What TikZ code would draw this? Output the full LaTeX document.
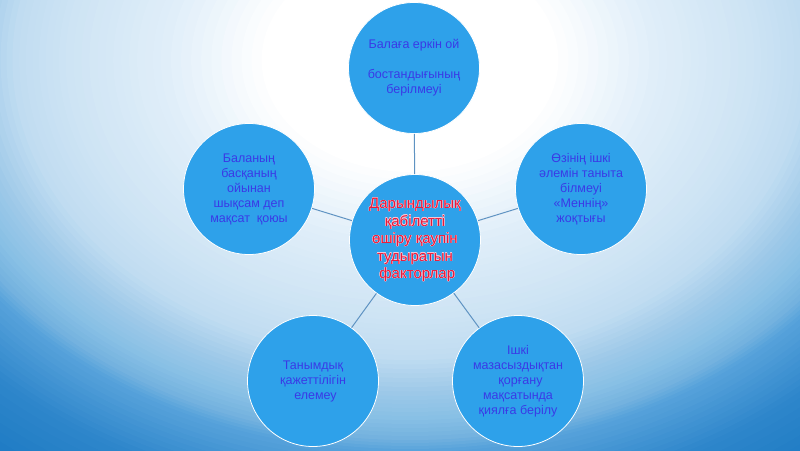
\documentclass[tikz,border=0pt]{standalone}
\usepackage{fontspec}
\setmainfont{Liberation Sans}
\definecolor{s1}{HTML}{E0EEF9}
\definecolor{s2}{HTML}{CEE4F4}
\definecolor{s3}{HTML}{C0DCF1}
\definecolor{s4}{HTML}{9CC8E8}
\definecolor{s5}{HTML}{88C0E5}
\definecolor{s6}{HTML}{74B2DF}
\definecolor{s7}{HTML}{58A3DB}
\definecolor{s8}{HTML}{2E86CB}
\definecolor{s9}{HTML}{1A78C2}
\definecolor{circblue}{HTML}{2EA1EA}
\definecolor{txtblue}{HTML}{3A3AE6}
\definecolor{txtred}{HTML}{E8183A}
\definecolor{halocol}{HTML}{F6C8D6}
\definecolor{connblue}{HTML}{5F93C2}
% one ring band of the background: t0 t1 inner-colour outer-colour steps
\newcommand\bgseg[5]{%
  \foreach \k in {0,...,#5}{%
    \pgfmathsetmacro\s{#2-(#2-#1)*\k/#5}%
    \pgfmathtruncatemacro\p{100*\k/#5}%
    \fill[#3!\p!#4] (410,60) ellipse ({530*\s} and {400*\s});
  }}
\newcommand\hubtxt{Дарындылық\\қабілетті\\өшіру қаупін\\тудыратын\\\hspace{0.3em}факторлар}
\begin{document}
\begin{tikzpicture}[x=1pt,y=-1pt,
  circ/.style={circle, fill=circblue, draw=white, line width=0.8pt, minimum size=131pt, inner sep=0pt, align=center, font=\fontsize{12.5}{15}\selectfont, text=txtblue},
  hubtext/.style={align=center, inner sep=0pt, font=\fontsize{15}{17.5}\selectfont},
  conn/.style={draw=connblue, line width=1pt}]
\useasboundingbox (0,0) rectangle (800,450);
\begin{scope}
  \clip (0,0) rectangle (800,450);
  \fill[s9] (0,0) rectangle (800,450);
  \bgseg{1.12}{1.30}{s8}{s9}{10}
  \bgseg{0.98}{1.12}{s7}{s8}{12}
  \bgseg{0.95}{0.98}{s6}{s7}{4}
  \bgseg{0.90}{0.95}{s5}{s6}{5}
  \bgseg{0.84}{0.90}{s4}{s5}{6}
  \bgseg{0.75}{0.84}{s3}{s4}{8}
  \bgseg{0.65}{0.75}{s2}{s3}{8}
  \bgseg{0.47}{0.65}{s1}{s2}{12}
  \bgseg{0.28}{0.47}{white}{s1}{10}
\end{scope}
\node[circ] (c)  at (415,240) {};
\foreach \a in {0,45,...,315}
  \node[hubtext, text=halocol] (halo\a) at ([shift={(\a:0.35)}]c.center) {\hubtxt};
\node[hubtext, text=txtred] (ctext) at (c.center) {\hubtxt};
\node[circ] (t)  at (414,68)  {Балаға еркін ой\\[15pt]бостандығының\\берілмеуі};
\node[circ] (l)  at (249,189) {Баланың\\басқаның\\ойынан\\шықсам деп\\мақсат\ \ қоюы};
\node[circ] (r)  at (581,189) {Өзінің ішкі\\әлемін таныта\\білмеуі\\«Меннің»\\жоқтығы};
\node[circ] (bl) at (313,381) {Танымдық\\қажеттілігін\\\hspace{0.4em}елемеу};
\node[circ] (br) at (518,381) {Ішкі\\мазасыздықтан\\\hspace{0.4em}қорғану\\мақсатында\\қиялға берілу};
\draw[conn] (c) -- (t);
\draw[conn] (c) -- (l);
\draw[conn] (c) -- (r);
\draw[conn] (c) -- (bl);
\draw[conn] (c) -- (br);
\end{tikzpicture}
\end{document}
